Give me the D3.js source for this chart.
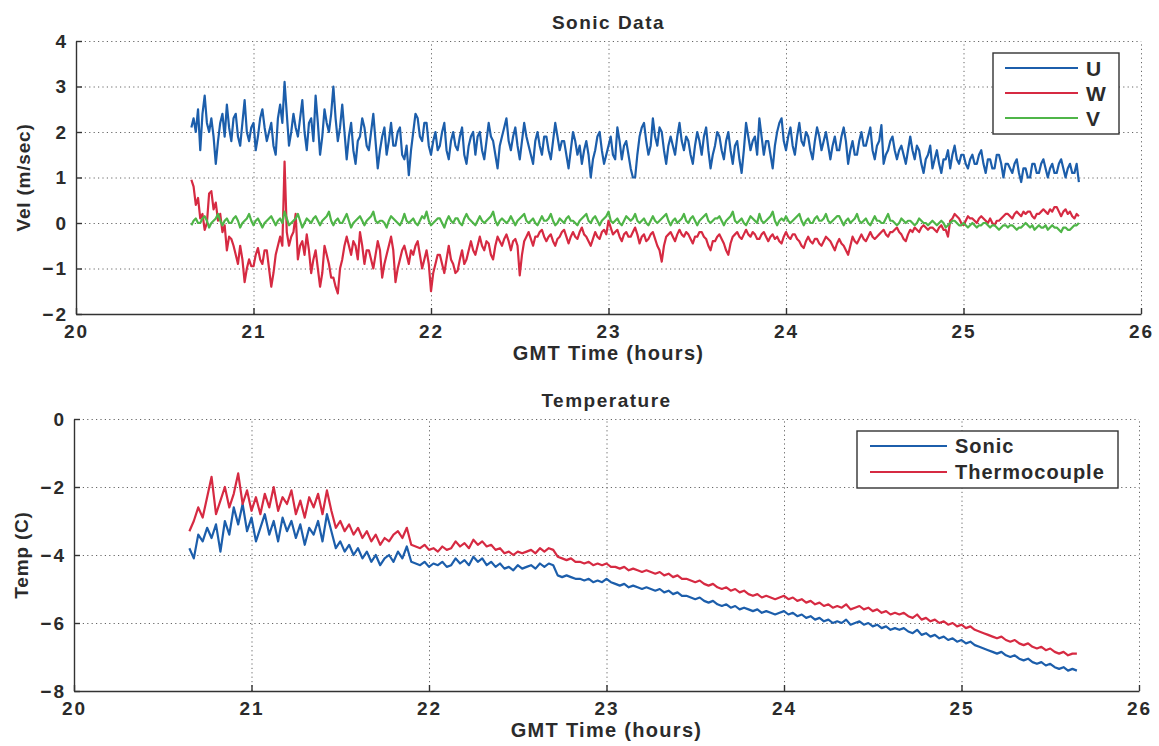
<!DOCTYPE html>
<html>
<head>
<meta charset="utf-8">
<script src="https://cdn.jsdelivr.net/npm/d3@7"></script>
<style>
  body { margin: 0; background: #fff; }
  text { font-family: "Liberation Sans", Arial, sans-serif; fill: #2b2b2b; }
  .grid line { stroke: #666; stroke-dasharray: 1.2 3.2; stroke-width: 1; }
  .grid path { display: none; }
  .axis path, .axis line { stroke: #333; stroke-width: 1.4; }
  .axis text { font-size: 19px; font-weight: bold; letter-spacing: 2px; }
</style>
</head>
<body>
<div id="chart"></div>
<script>
// sample times (hours GMT): sonic every 0.0125 h, temperatures every 0.025 h
var startTime = 20.65;
var velStep = 0.0125;
var tempStep = 0.025;

// Sonic velocity components (m/sec), 16 readings per row = 0.2 h
var uVel = [
  2.1, 2.3, 2.0, 2.5, 1.6, 2.4, 2.8, 2.2, 2.0, 2.3, 1.9, 1.3, 1.8, 2.2, 2.4, 1.9,
  2.6, 2.1, 1.8, 2.3, 2.4, 1.9, 1.7, 2.2, 2.7, 2.0, 1.8, 2.1, 2.2, 1.6, 1.9, 2.3,
  2.5, 2.1, 1.8, 2.0, 2.2, 1.7, 1.5, 2.3, 2.6, 2.2, 3.1, 2.4, 1.7, 2.0, 2.4, 2.1,
  1.9, 2.3, 2.7, 2.0, 1.6, 2.2, 2.3, 1.8, 2.8, 2.2, 1.5, 1.9, 2.5, 2.2, 2.0, 2.4,
  3.0, 2.3, 1.8, 2.1, 2.6, 2.0, 1.4, 1.9, 2.2, 1.6, 1.3, 1.8, 1.9, 2.3, 2.1, 1.7,
  1.6, 2.0, 2.4, 1.8, 1.2, 1.6, 1.9, 2.1, 1.5, 1.8, 2.2, 1.7, 1.7, 2.0, 2.1, 1.5,
  1.4, 1.7, 1.05, 1.6, 2.0, 2.4, 2.3, 1.9, 1.8, 2.2, 2.2, 1.7, 1.5, 1.8, 2.0, 1.6,
  1.7, 2.0, 2.2, 1.6, 1.4, 1.8, 2.0, 1.7, 1.6, 1.9, 2.1, 1.5, 1.3, 1.7, 1.9, 2.0,
  1.5, 1.9, 2.0, 1.6, 1.4, 1.8, 2.2, 1.9, 1.8, 1.5, 1.2, 1.7, 1.9, 2.1, 2.3, 1.8,
  1.6, 1.9, 2.1, 1.7, 1.4, 1.8, 2.2, 1.9, 1.7, 1.5, 1.3, 1.8, 2.0, 1.7, 1.5, 1.9,
  1.9, 1.6, 1.4, 1.8, 2.2, 1.9, 1.6, 1.8, 1.8, 1.5, 1.2, 1.6, 2.0, 1.8, 1.5, 1.7,
  1.3, 1.6, 1.8, 1.5, 1.0, 1.4, 1.6, 1.9, 2.0, 1.6, 1.3, 1.5, 1.7, 1.9, 1.5, 1.4,
  2.1, 1.8, 1.4, 1.7, 1.8, 1.5, 1.2, 1.0, 1.0, 1.5, 1.9, 2.1, 2.2, 1.8, 1.5, 1.7,
  2.3, 1.9, 1.7, 2.1, 2.0, 1.6, 1.3, 1.7, 1.9, 1.7, 1.5, 1.9, 2.2, 1.8, 1.6, 1.9,
  1.8, 1.5, 1.3, 1.7, 2.0, 1.8, 1.5, 1.9, 2.1, 1.6, 1.2, 1.5, 1.7, 2.0, 1.9, 1.6,
  1.4, 1.8, 2.0, 1.6, 1.3, 1.7, 1.8, 1.4, 1.1, 1.6, 2.2, 1.9, 1.6, 1.8, 1.9, 1.5,
  2.3, 1.9, 1.5, 1.8, 1.8, 1.5, 1.2, 1.7, 2.0, 2.2, 2.3, 1.8, 1.6, 1.9, 2.1, 1.7,
  1.5, 1.9, 2.2, 1.8, 1.7, 2.0, 1.9, 1.6, 1.4, 1.8, 2.1, 1.9, 1.6, 1.8, 2.0, 1.7,
  1.4, 1.7, 1.9, 1.6, 1.6, 1.9, 2.1, 1.8, 1.3, 1.6, 1.8, 1.5, 1.5, 1.8, 2.0, 1.7,
  1.7, 1.9, 2.1, 1.6, 1.4, 1.7, 1.8, 2.15, 1.3, 1.5, 1.6, 1.8, 1.9, 1.6, 1.4, 1.6,
  1.7, 1.5, 1.3, 1.6, 1.9, 1.6, 1.4, 1.7, 1.6, 1.3, 1.1, 1.4, 1.5, 1.7, 1.2, 1.4,
  1.6, 1.3, 1.1, 1.4, 1.4, 1.6, 1.2, 1.5, 1.7, 1.4, 1.3, 1.5, 1.5, 1.3, 1.2, 1.4,
  1.5, 1.3, 1.3, 1.5, 1.6, 1.3, 1.1, 1.4, 1.4, 1.2, 1.2, 1.5, 1.5, 1.3, 1.0, 1.3,
  1.3, 1.2, 1.1, 1.3, 1.4, 1.1, 0.9, 1.2, 1.2, 1.0, 1.0, 1.3, 1.3, 1.1, 1.1, 1.3,
  1.4, 1.2, 1.0, 1.2, 1.3, 1.1, 1.1, 1.3, 1.4, 1.2, 1.0, 1.2, 1.3, 1.1, 1.1, 1.3,
  0.9
];

var wVel = [
  0.95, 0.8, 0.4, 0.55, 0.1, 0.2, -0.15, 0.0, 0.65, 0.7, 0.3, 0.45, 0.05, 0.2, -0.2, -0.05,
  -0.6, -0.3, -0.35, -0.5, -0.7, -0.9, -0.5, -0.8, -1.3, -1.0, -0.8, -0.95, -0.95, -0.7, -0.55, -0.8,
  -0.9, -0.6, -0.6, -1.0, -1.4, -1.1, -0.7, -0.5, -0.3, -0.5, 1.35, -0.2, -0.5, -0.3, -0.2, 0.2,
  -0.8, -0.5, -0.4, -0.7, -0.25, -0.6, -1.1, -0.8, -0.6, -1.0, -1.4, -1.1, -0.5, -0.7, -0.9, -1.2,
  -1.2, -1.4, -1.55, -1.0, -0.8, -0.5, -0.3, -0.5, -0.7, -0.4, -0.5, -0.8, -0.2, -0.5, -0.9, -0.6,
  -0.6, -0.8, -1.0, -0.7, -0.4, -0.6, -1.2, -0.9, -0.7, -0.5, -0.3, -0.6, -1.3, -1.0, -0.8, -0.6,
  -0.5, -0.7, -0.9, -0.6, -0.7, -0.5, -0.4, -0.7, -1.0, -0.8, -0.6, -0.9, -1.5, -1.1, -0.9, -0.7,
  -0.7, -0.9, -1.1, -0.8, -0.5, -0.8, -0.9, -1.1, -1.05, -0.8, -0.6, -0.9, -0.8, -0.6, -0.4, -0.6,
  -0.7, -0.5, -0.3, -0.5, -0.6, -0.4, -0.45, -0.7, -0.8, -0.5, -0.3, -0.4, -0.5, -0.35, -0.25, -0.4,
  -0.6, -0.4, -0.35, -0.5, -1.15, -0.7, -0.4, -0.3, -0.2, -0.35, -0.5, -0.3, -0.3, -0.2, -0.15, -0.3,
  -0.4, -0.3, -0.25, -0.4, -0.5, -0.35, -0.3, -0.2, -0.15, -0.3, -0.45, -0.3, -0.2, -0.3, -0.35, -0.2,
  -0.1, -0.25, -0.3, -0.4, -0.5, -0.35, -0.2, -0.3, -0.35, -0.2, -0.15, -0.25, 0.05, -0.1, -0.25, -0.2,
  -0.15, -0.3, -0.4, -0.25, -0.2, -0.3, -0.3, -0.2, -0.1, -0.25, -0.45, -0.3, -0.25, -0.4, -0.35, -0.25,
  -0.2, -0.35, -0.5, -0.6, -0.85, -0.5, -0.3, -0.25, -0.2, -0.3, -0.4, -0.25, -0.15, -0.25, -0.3, -0.2,
  -0.25, -0.35, -0.45, -0.3, -0.3, -0.2, -0.2, -0.3, -0.35, -0.5, -0.6, -0.4, -0.4, -0.3, -0.25, -0.35,
  -0.45, -0.6, -0.7, -0.45, -0.3, -0.25, -0.2, -0.3, -0.35, -0.25, -0.15, -0.25, -0.3, -0.2, -0.25, -0.35,
  -0.35, -0.25, -0.2, -0.3, -0.4, -0.3, -0.25, -0.35, -0.3, -0.4, -0.45, -0.3, -0.2, -0.3, -0.35, -0.25,
  -0.25, -0.35, -0.4, -0.5, -0.55, -0.4, -0.3, -0.4, -0.45, -0.35, -0.35, -0.45, -0.5, -0.4, -0.3, -0.35,
  -0.4, -0.5, -0.6, -0.45, -0.35, -0.45, -0.5, -0.6, -0.7, -0.5, -0.3, -0.4, -0.45, -0.35, -0.25, -0.35,
  -0.4, -0.3, -0.2, -0.3, -0.35, -0.3, -0.25, -0.2, -0.15, -0.25, -0.3, -0.2, -0.2, -0.15, -0.1, -0.2,
  -0.25, -0.35, -0.4, -0.25, -0.15, -0.2, -0.1, -0.15, -0.2, -0.1, -0.05, -0.1, -0.15, -0.1, -0.1, -0.15,
  -0.2, -0.1, -0.05, -0.15, -0.15, -0.3, 0.05, 0.1, 0.2, 0.15, 0.1, 0.0, -0.05, 0.05, 0.15, 0.1,
  0.1, 0.05, 0.0, 0.1, 0.15, 0.1, 0.05, 0.0, 0.1, 0.0, -0.05, 0.05, 0.05, 0.1, 0.15, 0.2,
  0.2, 0.15, 0.1, 0.2, 0.25, 0.2, 0.15, 0.25, 0.2, 0.25, 0.25, 0.15, 0.1, 0.2, 0.2, 0.25,
  0.3, 0.25, 0.2, 0.3, 0.25, 0.35, 0.35, 0.25, 0.15, 0.25, 0.3, 0.2, 0.25, 0.15, 0.1, 0.2,
  0.15
];

var vVel = [
  -0.05, 0.05, 0.1, 0.0, 0.0, 0.1, 0.15, 0.05, -0.1, 0.0, 0.05, 0.1, 0.2, 0.05, -0.05, 0.05,
  0.1, 0.0, 0.0, 0.1, 0.15, 0.05, -0.1, 0.0, 0.05, 0.1, 0.2, 0.05, -0.05, 0.05, 0.1, 0.0,
  -0.1, 0.0, 0.05, 0.1, 0.15, 0.05, -0.05, 0.05, 0.1, 0.0, 0.25, 0.1, -0.05, 0.0, 0.05, 0.1,
  0.2, 0.05, -0.1, 0.0, 0.1, 0.05, 0.0, 0.1, 0.15, 0.05, -0.05, 0.05, 0.1, 0.15, 0.25, 0.05,
  -0.05, 0.05, 0.1, 0.0, 0.0, 0.1, 0.2, 0.05, -0.1, 0.0, 0.05, 0.1, 0.15, 0.05, -0.05, 0.05,
  0.1, 0.15, 0.25, 0.05, 0.0, 0.05, 0.05, 0.0, -0.1, 0.05, 0.15, 0.1, 0.05, 0.0, -0.05, 0.05,
  0.2, 0.05, 0.0, 0.05, 0.1, 0.0, -0.05, 0.05, 0.15, 0.1, 0.25, 0.05, -0.05, 0.0, 0.05, 0.1,
  0.1, 0.0, -0.1, 0.05, 0.15, 0.05, 0.0, 0.1, 0.1, 0.0, -0.05, 0.1, 0.2, 0.1, 0.05, 0.0,
  -0.05, 0.05, 0.15, 0.05, 0.0, 0.05, 0.1, 0.15, 0.25, 0.05, -0.05, 0.05, 0.1, 0.05, 0.0, 0.05,
  0.15, 0.05, -0.05, 0.05, 0.1, 0.15, 0.2, 0.05, 0.0, 0.05, 0.1, 0.0, -0.05, 0.05, 0.15, 0.05,
  0.05, 0.1, 0.2, 0.05, -0.05, 0.0, 0.1, 0.05, 0.0, 0.1, 0.15, 0.05, 0.05, 0.0, -0.05, 0.05,
  0.1, 0.15, 0.2, 0.05, 0.0, 0.1, 0.15, 0.05, -0.05, 0.05, 0.1, 0.15, 0.25, 0.05, 0.0, 0.05,
  0.1, 0.0, -0.05, 0.05, 0.15, 0.1, 0.05, 0.1, 0.2, 0.05, 0.0, 0.05, 0.1, 0.0, -0.05, 0.05,
  0.15, 0.05, 0.0, 0.05, 0.1, 0.15, 0.2, 0.05, -0.05, 0.05, 0.1, 0.0, 0.05, 0.1, 0.2, 0.05,
  0.0, 0.1, 0.15, 0.05, -0.05, 0.05, 0.1, 0.15, 0.2, 0.05, 0.0, 0.05, 0.1, 0.1, 0.15, 0.05,
  -0.05, 0.05, 0.1, 0.15, 0.25, 0.05, 0.0, 0.05, 0.1, 0.0, -0.05, 0.05, 0.15, 0.1, 0.05, 0.0,
  0.2, 0.05, 0.0, 0.05, 0.1, 0.15, 0.25, 0.05, -0.05, 0.05, 0.1, 0.05, 0.15, 0.05, 0.0, 0.05,
  0.1, 0.15, 0.2, 0.05, -0.05, 0.05, 0.1, 0.0, 0.0, 0.1, 0.15, 0.05, 0.05, 0.1, 0.2, 0.05,
  0.0, 0.05, 0.1, 0.15, 0.15, 0.05, -0.05, 0.05, 0.1, 0.0, 0.05, 0.1, 0.2, 0.05, 0.0, 0.05,
  0.1, 0.0, -0.05, 0.05, 0.15, 0.05, 0.05, 0.0, 0.0, 0.1, 0.2, 0.05, 0.05, 0.0, -0.05, 0.0,
  0.1, 0.05, 0.0, 0.05, 0.05, 0.0, -0.05, 0.0, 0.1, 0.05, 0.0, 0.0, -0.05, 0.0, 0.05, 0.0,
  -0.05, 0.0, 0.05, 0.0, -0.1, -0.05, 0.0, 0.05, 0.05, 0.0, -0.05, -0.05, 0.0, -0.05, -0.1, -0.05,
  0.0, -0.05, -0.1, -0.05, -0.05, 0.0, 0.0, -0.05, -0.1, -0.05, -0.05, -0.1, -0.15, -0.1, -0.05, -0.05,
  -0.1, -0.05, -0.05, -0.1, -0.15, -0.1, -0.1, -0.05, 0.0, -0.05, -0.1, -0.05, -0.15, -0.1, -0.05, -0.1,
  -0.1, -0.05, -0.15, -0.1, -0.05, -0.1, -0.1, -0.15, -0.2, -0.1, -0.1, -0.15, -0.15, -0.1, -0.05, -0.05,
  0.0
];

// Temperatures (C), 8 readings per row = 0.2 h
var sonicTemp = [
  -3.8, -4.1, -3.4, -3.6, -3.2, -3.5, -3.1, -3.9,
  -3.0, -3.4, -2.6, -3.1, -2.5, -3.3, -2.9, -3.6,
  -3.2, -2.8, -3.4, -3.0, -3.6, -2.9, -3.3, -3.0,
  -3.5, -3.1, -3.7, -3.2, -3.4, -3.0, -3.6, -2.8,
  -3.3, -3.8, -3.6, -3.9, -3.7, -4.0, -3.8, -4.1,
  -3.9, -4.2, -4.0, -4.3, -4.1, -4.0, -4.2, -3.9,
  -4.1, -3.75, -4.2, -4.25, -4.3, -4.2, -4.35, -4.25,
  -4.3, -4.2, -4.35, -4.3, -4.1, -4.25, -4.15, -4.3,
  -4.05, -4.2, -4.1, -4.3, -4.2, -4.35, -4.25, -4.4,
  -4.35, -4.45, -4.3, -4.4, -4.35, -4.3, -4.4, -4.25,
  -4.35, -4.25, -4.3, -4.6, -4.65, -4.6, -4.65, -4.7,
  -4.7, -4.75, -4.7, -4.8, -4.75, -4.8, -4.7, -4.8,
  -4.85, -4.9, -4.85, -4.95, -4.9, -4.95, -5.0, -4.95,
  -5.0, -5.05, -5.0, -5.1, -5.05, -5.15, -5.1, -5.2,
  -5.2, -5.25, -5.3, -5.25, -5.35, -5.4, -5.35, -5.45,
  -5.5, -5.45, -5.55, -5.5, -5.6, -5.55, -5.6, -5.65,
  -5.6, -5.7, -5.65, -5.7, -5.75, -5.7, -5.65, -5.75,
  -5.7, -5.8, -5.75, -5.85, -5.8, -5.9, -5.85, -5.95,
  -5.9, -6.0, -5.95, -6.0, -5.9, -6.05, -6.0, -5.95,
  -6.05, -6.0, -6.1, -6.05, -6.15, -6.1, -6.2, -6.15,
  -6.2, -6.15, -6.25, -6.3, -6.2, -6.35, -6.3, -6.4,
  -6.35, -6.45, -6.4, -6.5, -6.45, -6.55, -6.5, -6.6,
  -6.55, -6.65, -6.7, -6.75, -6.8, -6.85, -6.9, -6.85,
  -6.95, -7.0, -6.95, -7.05, -7.1, -7.05, -7.15, -7.2,
  -7.15, -7.25, -7.2, -7.3, -7.35, -7.3, -7.4, -7.35,
  -7.4
];

var thermoTemp = [
  -3.3, -3.0, -2.6, -2.9, -2.3, -1.7, -2.8, -2.4,
  -2.0, -2.6, -2.2, -1.6, -2.5, -2.1, -2.7, -2.3,
  -2.8, -2.2, -2.6, -2.0, -2.7, -2.3, -2.5, -2.1,
  -2.8, -2.4, -2.9, -2.3, -2.6, -2.2, -2.8, -2.1,
  -2.7, -3.2, -3.0, -3.3, -3.1, -3.4, -3.2, -3.5,
  -3.3, -3.6, -3.4, -3.7, -3.5, -3.6, -3.4, -3.3,
  -3.5, -3.2, -3.7, -3.75, -3.8, -3.7, -3.85, -3.8,
  -3.9, -3.75, -3.85, -3.8, -3.6, -3.75, -3.65, -3.8,
  -3.55, -3.7, -3.6, -3.75, -3.7, -3.85, -3.8, -3.95,
  -3.9, -4.0, -3.9, -3.95, -3.9, -3.85, -3.95, -3.8,
  -3.9, -3.8, -3.85, -4.05, -4.1, -4.15, -4.1, -4.2,
  -4.2, -4.25, -4.2, -4.3, -4.25, -4.3, -4.25, -4.35,
  -4.35, -4.4, -4.35, -4.45, -4.4, -4.45, -4.5, -4.45,
  -4.5, -4.55, -4.5, -4.6, -4.55, -4.65, -4.6, -4.7,
  -4.7, -4.75, -4.8, -4.75, -4.85, -4.9, -4.85, -4.95,
  -5.0, -4.95, -5.05, -5.0, -5.1, -5.05, -5.15, -5.2,
  -5.15, -5.25, -5.2, -5.25, -5.3, -5.25, -5.2, -5.3,
  -5.25, -5.35, -5.3, -5.4, -5.35, -5.45, -5.4, -5.5,
  -5.45, -5.55, -5.5, -5.55, -5.45, -5.6, -5.55, -5.5,
  -5.6, -5.55, -5.65, -5.6, -5.7, -5.65, -5.75, -5.7,
  -5.75, -5.7, -5.8, -5.85, -5.75, -5.9, -5.85, -5.95,
  -5.9, -6.0, -5.95, -6.05, -6.0, -6.1, -6.05, -6.15,
  -6.1, -6.2, -6.25, -6.3, -6.35, -6.4, -6.45, -6.4,
  -6.5, -6.55, -6.5, -6.6, -6.65, -6.6, -6.7, -6.75,
  -6.7, -6.8, -6.75, -6.85, -6.9, -6.85, -6.95, -6.9,
  -6.9
];

// tick values
var xTicks = [20, 21, 22, 23, 24, 25, 26];
var velTicks = [-2, -1, 0, 1, 2, 3, 4];
var tempTicks = [-8, -6, -4, -2, 0];

var blue = "#1c5eab";
var red = "#d62a42";
var green = "#4fb548";

var svgWidth = 1159;
var svgHeight = 746;

var svg = d3.select("#chart")
  .append("svg")
  .attr("width", svgWidth)
  .attr("height", svgHeight);

// pair each value with its time stamp
function toPoints(values, step) {
  return values.map((v, i) => ({ t: startTime + i * step, v: v }));
}

// draws one MATLAB style subplot
function drawPanel(box, yDomain, yTickVals, title, yLabel, series) {
  var x = d3.scaleLinear().domain([20, 26]).range([box.left, box.right]);
  var y = d3.scaleLinear().domain(yDomain).range([box.bottom, box.top]);

  // dotted grid
  svg.append("g")
    .attr("class", "grid")
    .attr("transform", `translate(0, ${box.bottom})`)
    .call(d3.axisBottom(x).tickValues(xTicks).tickSize(-(box.bottom - box.top)).tickFormat(""));
  svg.append("g")
    .attr("class", "grid")
    .attr("transform", `translate(${box.left}, 0)`)
    .call(d3.axisLeft(y).tickValues(yTickVals).tickSize(-(box.right - box.left)).tickFormat(""));

  // data lines
  var line = d3.line()
    .x(d => x(d.t))
    .y(d => y(d.v));
  series.forEach(function(s) {
    svg.append("path")
      .datum(toPoints(s.values, s.step))
      .attr("fill", "none")
      .attr("stroke", s.color)
      .attr("stroke-width", s.width)
      .attr("stroke-linejoin", "round")
      .attr("d", line);
  });

  // axes with inward ticks
  svg.append("g")
    .attr("class", "axis")
    .attr("transform", `translate(0, ${box.bottom})`)
    .call(d3.axisBottom(x).tickValues(xTicks).tickFormat(d3.format("d"))
      .tickSizeInner(-6).tickSizeOuter(0).tickPadding(11));

  svg.append("g")
    .attr("class", "axis")
    .attr("transform", `translate(${box.left}, 0)`)
    .call(d3.axisLeft(y).tickValues(yTickVals).tickFormat(d3.format("d"))
      .tickSizeInner(-6).tickSizeOuter(0).tickPadding(8));

  // titles
  svg.append("text")
    .attr("x", (box.left + box.right) / 2)
    .attr("y", box.top - 12)
    .attr("text-anchor", "middle")
    .attr("font-size", 19)
    .attr("font-weight", "bold")
    .attr("letter-spacing", 1.5)
    .text(title);

  svg.append("text")
    .attr("x", (box.left + box.right) / 2)
    .attr("y", box.bottom + 46)
    .attr("text-anchor", "middle")
    .attr("font-size", 20)
    .attr("font-weight", "bold")
    .attr("letter-spacing", 1.3)
    .text("GMT Time (hours)");

  svg.append("text")
    .attr("transform", `translate(${box.left - 46}, ${(box.top + box.bottom) / 2}) rotate(-90)`)
    .attr("text-anchor", "middle")
    .attr("font-size", 19)
    .attr("font-weight", "bold")
    .attr("letter-spacing", 0.8)
    .text(yLabel);
}

// legend box with line samples
function drawLegend(box, items, lineX0, lineX1, textX, rowY, fontSize) {
  svg.append("rect")
    .attr("x", box.x)
    .attr("y", box.y)
    .attr("width", box.w)
    .attr("height", box.h)
    .attr("fill", "#fff")
    .attr("stroke", "#333")
    .attr("stroke-width", 1.4);

  items.forEach(function(item, i) {
    svg.append("line")
      .attr("x1", lineX0)
      .attr("x2", lineX1)
      .attr("y1", rowY[i])
      .attr("y2", rowY[i])
      .attr("stroke", item.color)
      .attr("stroke-width", 1.8);
    svg.append("text")
      .attr("x", textX)
      .attr("y", rowY[i])
      .attr("dy", "0.36em")
      .attr("font-size", fontSize)
      .attr("font-weight", "bold")
      .attr("letter-spacing", 1)
      .text(item.name);
  });
}

// Sonic Data panel
drawPanel(
  { left: 76, right: 1141, top: 41, bottom: 314 },
  [-2, 4], velTicks, "Sonic Data", "Vel (m/sec)",
  [
    { values: uVel, step: velStep, color: blue, width: 2.2 },
    { values: wVel, step: velStep, color: red, width: 2.2 },
    { values: vVel, step: velStep, color: green, width: 2.2 }
  ]
);

drawLegend(
  { x: 993, y: 53, w: 126, h: 81 },
  [{ name: "U", color: blue }, { name: "W", color: red }, { name: "V", color: green }],
  1005, 1078, 1086, [68, 93, 118], 21
);

// Temperature panel
drawPanel(
  { left: 74, right: 1139, top: 419, bottom: 691 },
  [-8, 0], tempTicks, "Temperature", "Temp (C)",
  [
    { values: sonicTemp, step: tempStep, color: blue, width: 2.2 },
    { values: thermoTemp, step: tempStep, color: red, width: 2.2 }
  ]
);

drawLegend(
  { x: 857, y: 431, w: 261, h: 57 },
  [{ name: "Sonic", color: blue }, { name: "Thermocouple", color: red }],
  870, 947, 955, [446, 472], 20
);
</script>
</body>
</html>
